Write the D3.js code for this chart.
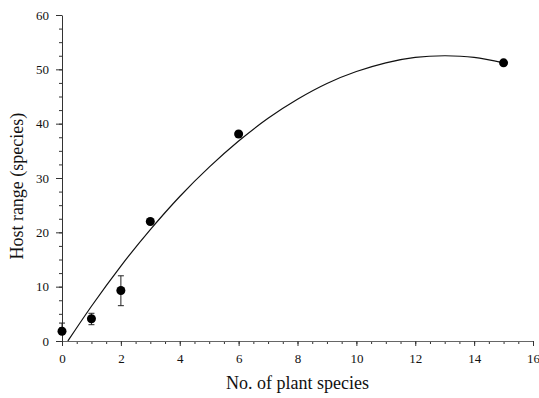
<!DOCTYPE html>
<html>
<head>
<meta charset="utf-8">
<script src="https://cdnjs.cloudflare.com/ajax/libs/d3/7.8.5/d3.min.js"></script>
<style>
  body { margin: 0; background: #fff; }
  text { font-family: "Liberation Serif", "Times New Roman", serif; fill: #111; }
</style>
</head>
<body>
<svg id="chart" width="539" height="398"></svg>
<script>
// observed means with standard errors
var plantSpecies = [0, 1, 2, 3, 6, 15];
var hostRange = [1.8, 4.1, 9.3, 22.0, 38.1, 51.2];
var errHigh = [1.5, 1.0, 2.7, 0, 0, 0];
var errLow = [0, 1.1, 2.8, 0, 0, 0];

// fitted curve
var fitX = [0.2, 1, 2, 3, 4, 5, 6, 7, 8, 9, 10, 11, 12, 13, 14, 15];
var fitY = [0, 6.4, 13.8, 20.5, 26.6, 32.0, 36.8, 41.0, 44.5, 47.4, 49.6, 51.2, 52.2, 52.5, 52.2, 51.2];

var xTicks = [0, 2, 4, 6, 8, 10, 12, 14, 16];
var yTicks = [0, 10, 20, 30, 40, 50, 60];

var svg = d3.select("#chart"),
    margin = {top: 15, right: 6, bottom: 57, left: 62},
    width = +svg.attr("width") - margin.left - margin.right,
    height = +svg.attr("height") - margin.top - margin.bottom;

var x = d3.scaleLinear().domain([0, 16]).range([0, width]),
    y = d3.scaleLinear().domain([0, 60]).range([height, 0]);

var g = svg.append("g")
    .attr("transform", "translate(" + margin.left + "," + margin.top + ")");

// minor ticks
g.append("g")
    .attr("transform", "translate(0," + height + ")")
    .call(d3.axisBottom(x).tickValues(d3.range(0, 16.01, 0.5)).tickSize(3).tickFormat(""))
    .call(function(a) { a.select(".domain").remove(); });
g.append("g")
    .call(d3.axisLeft(y).tickValues(d3.range(0, 60.01, 2.5)).tickSize(3).tickFormat(""))
    .call(function(a) { a.select(".domain").remove(); });

var xAxis = g.append("g")
    .attr("transform", "translate(0," + height + ")")
    .call(d3.axisBottom(x).tickValues(xTicks).tickSize(5).tickPadding(8).tickSizeOuter(0));
var yAxis = g.append("g")
    .call(d3.axisLeft(y).tickValues(yTicks).tickSize(6).tickPadding(7).tickSizeOuter(0));

svg.selectAll("g").attr("font-family", "Liberation Serif").attr("font-size", 13);
svg.selectAll(".domain, .tick line").attr("stroke", "#333");
xAxis.select(".domain").attr("stroke", "#666");

// fitted curve
var fit = fitX.map(function(d, i) { return [d, fitY[i]]; });
g.append("path")
    .datum(fit)
    .attr("fill", "none")
    .attr("stroke", "#111")
    .attr("stroke-width", 1.2)
    .attr("d", d3.line()
      .x(function(d) { return x(d[0]); })
      .y(function(d) { return y(d[1]); })
      .curve(d3.curveNatural));

var pts = plantSpecies.map(function(d, i) {
  return {x: d, y: hostRange[i], hi: errHigh[i], lo: errLow[i]};
});

// error bars
var eb = g.selectAll(".err")
    .data(pts.filter(function(d) { return d.hi > 0 || d.lo > 0; }))
    .enter().append("g")
      .attr("class", "err")
      .attr("stroke", "#222")
      .attr("stroke-width", 1);
eb.append("line")
    .attr("x1", function(d) { return x(d.x); })
    .attr("x2", function(d) { return x(d.x); })
    .attr("y1", function(d) { return y(d.y + d.hi); })
    .attr("y2", function(d) { return y(d.y - d.lo); });
eb.append("line")
    .attr("x1", function(d) { return x(d.x) - 3; })
    .attr("x2", function(d) { return x(d.x) + 3; })
    .attr("y1", function(d) { return y(d.y + d.hi); })
    .attr("y2", function(d) { return y(d.y + d.hi); });
eb.append("line")
    .attr("x1", function(d) { return x(d.x) - 3; })
    .attr("x2", function(d) { return x(d.x) + 3; })
    .attr("y1", function(d) { return y(d.y - d.lo); })
    .attr("y2", function(d) { return y(d.y - d.lo); });

g.selectAll(".dot")
    .data(pts)
    .enter().append("circle")
      .attr("class", "dot")
      .attr("cx", function(d) { return x(d.x); })
      .attr("cy", function(d) { return y(d.y); })
      .attr("r", 4.5)
      .attr("fill", "#000");

// axis titles
svg.append("text")
    .attr("x", margin.left + x(8))
    .attr("y", 389)
    .attr("text-anchor", "middle")
    .style("font-size", "18px")
    .text("No. of plant species");

svg.append("text")
    .attr("transform", "translate(23," + (margin.top + y(28.5)) + ") rotate(-90)")
    .attr("text-anchor", "middle")
    .style("font-size", "18px")
    .text("Host range (species)");
</script>
</body>
</html>
